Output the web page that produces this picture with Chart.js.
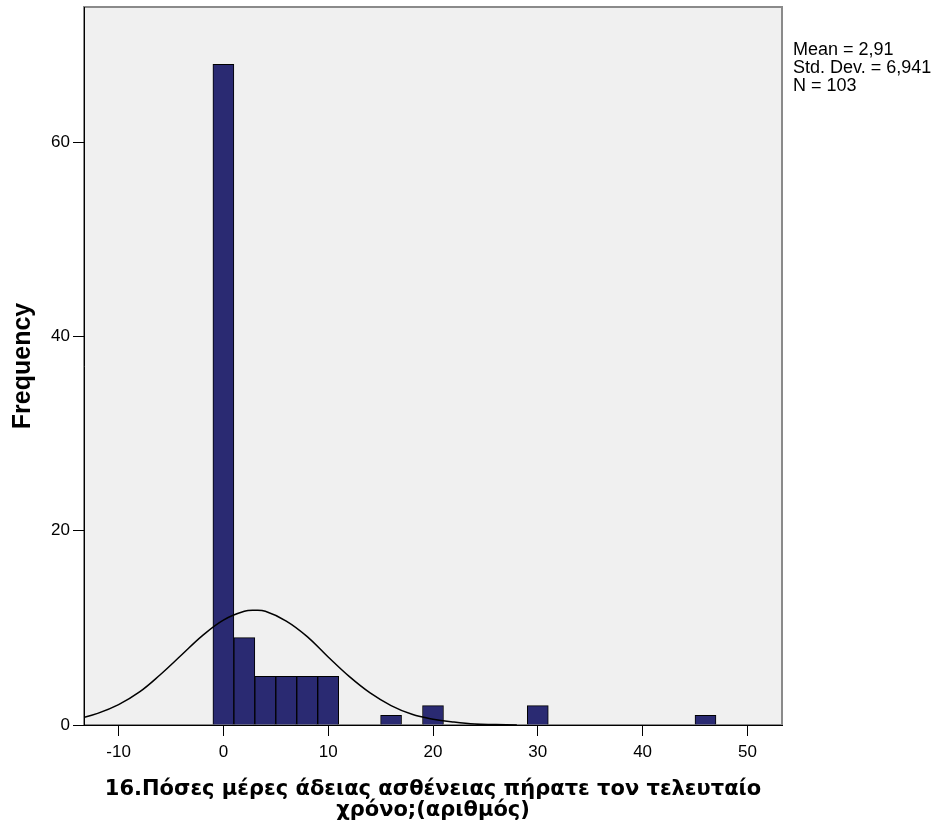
<!DOCTYPE html>
<html lang="el">
<head>
    <meta charset="UTF-8">
    <title>Histogram</title>
    <style>
        body {
            margin: 0;
            background-color: #ffffff;
        }
        .wrap {
            position: relative;
            width: 933px;
            height: 829px;
        }
        .stats {
            position: absolute;
            left: 793px;
            top: 40px;
            font-family: 'Liberation Sans', Arial, sans-serif;
            font-size: 18px;
            line-height: 18px;
            color: #000000;
            white-space: nowrap;
        }
    </style>
</head>
<body>
<div class="wrap">
    <canvas id="chart1" width="933" height="829"></canvas>
    <div class="stats" id="stats"></div>
</div>

<script src="https://cdn.jsdelivr.net/npm/chart.js"></script>
<script>
    // histogram bins (centre of each 2-day bin) and their counts
    const binCenters = [0, 2, 4, 6, 8, 10, 16, 20, 30, 46];
    const binCounts = [68, 9, 5, 5, 5, 5, 1, 2, 2, 1];

    // normal curve
    const curveX = [-14, -12, -10, -8, -6, -4, -2, 0, 2, 3, 4, 6, 8, 10, 12, 14, 16, 18, 20, 22, 24, 26, 28];
    const curveY = [0.6, 1.2, 2.1, 3.4, 5.2, 7.2, 9.2, 10.8, 11.7, 11.8, 11.7, 10.7, 9.1, 7.0, 5.0, 3.3, 2.0, 1.1, 0.6, 0.3, 0.1, 0.05, 0];

    const statsLines = ['Mean = 2,91', 'Std. Dev. = 6,941', 'N = 103'];
    const xTitle = ['16.Πόσες μέρες άδειας ασθένειας πήρατε τον τελευταίο', 'χρόνο;(αριθμός)'];
    const yTitle = 'Frequency';

    document.getElementById('stats').innerHTML = statsLines.join('<br>');

    const plotBackground = {
        id: 'plotBackground',
        beforeDraw(chart) {
            const {ctx, chartArea: a} = chart;
            ctx.save();
            ctx.fillStyle = '#f0f0f0';
            ctx.fillRect(a.left, a.top, a.right - a.left, a.bottom - a.top);
            ctx.strokeStyle = '#8a8a8a';
            ctx.lineWidth = 2;
            ctx.strokeRect(a.left, a.top, a.right - a.left, a.bottom - a.top);
            ctx.restore();
        }
    };

    const tickFont = {family: "'Liberation Sans', Arial, sans-serif", size: 17};

    new Chart(document.getElementById('chart1'), {
        data: {
            datasets: [{
                type: 'line',
                data: curveX.map((x, i) => ({x: x, y: curveY[i]})),
                borderColor: '#000000',
                borderWidth: 1.5,
                pointRadius: 0,
                tension: 0.4,
                order: 0
            }, {
                type: 'bar',
                data: binCenters.map((x, i) => ({x: x, y: binCounts[i]})),
                backgroundColor: '#2a2a72',
                borderColor: '#000000',
                borderWidth: 1,
                barPercentage: 1,
                categoryPercentage: 1,
                order: 1
            }]
        },
        options: {
            responsive: false,
            animation: false,
            layout: {
                padding: {top: 7, right: 151, bottom: 0, left: 0}
            },
            plugins: {
                legend: {display: false},
                tooltip: {enabled: false}
            },
            scales: {
                x: {
                    type: 'linear',
                    min: -13.3,
                    max: 53.3,
                    offset: false,
                    afterFit: (scale) => {
                        scale.height = 104;
                        scale.paddingLeft = 0;
                        scale.paddingRight = 0;
                    },
                    ticks: {
                        stepSize: 10,
                        includeBounds: false,
                        color: '#000000',
                        font: tickFont,
                        padding: 6,
                        maxRotation: 0
                    },
                    grid: {
                        offset: false,
                        drawOnChartArea: false,
                        color: '#000000',
                        tickLength: 11
                    },
                    border: {color: '#000000', width: 1},
                    title: {
                        display: true,
                        text: xTitle,
                        color: '#000000',
                        font: {family: "'DejaVu Sans', Verdana, sans-serif", size: 21, weight: 'bold', lineHeight: 1.0},
                        padding: {top: 0, bottom: 8}
                    }
                },
                y: {
                    min: 0,
                    max: 73.9,
                    afterFit: (scale) => {
                        scale.width = 84;
                        scale.paddingTop = 0;
                        scale.paddingBottom = 0;
                    },
                    ticks: {
                        stepSize: 20,
                        includeBounds: false,
                        color: '#000000',
                        font: tickFont,
                        padding: 3
                    },
                    grid: {
                        drawOnChartArea: false,
                        color: '#000000',
                        tickLength: 11
                    },
                    border: {color: '#000000', width: 1},
                    title: {
                        display: true,
                        text: yTitle,
                        color: '#000000',
                        font: {family: "'Liberation Sans', Arial, sans-serif", size: 25, weight: 'bold'},
                        padding: {top: 8, bottom: 0}
                    }
                }
            }
        },
        plugins: [plotBackground]
    });
</script>
</body>
</html>
